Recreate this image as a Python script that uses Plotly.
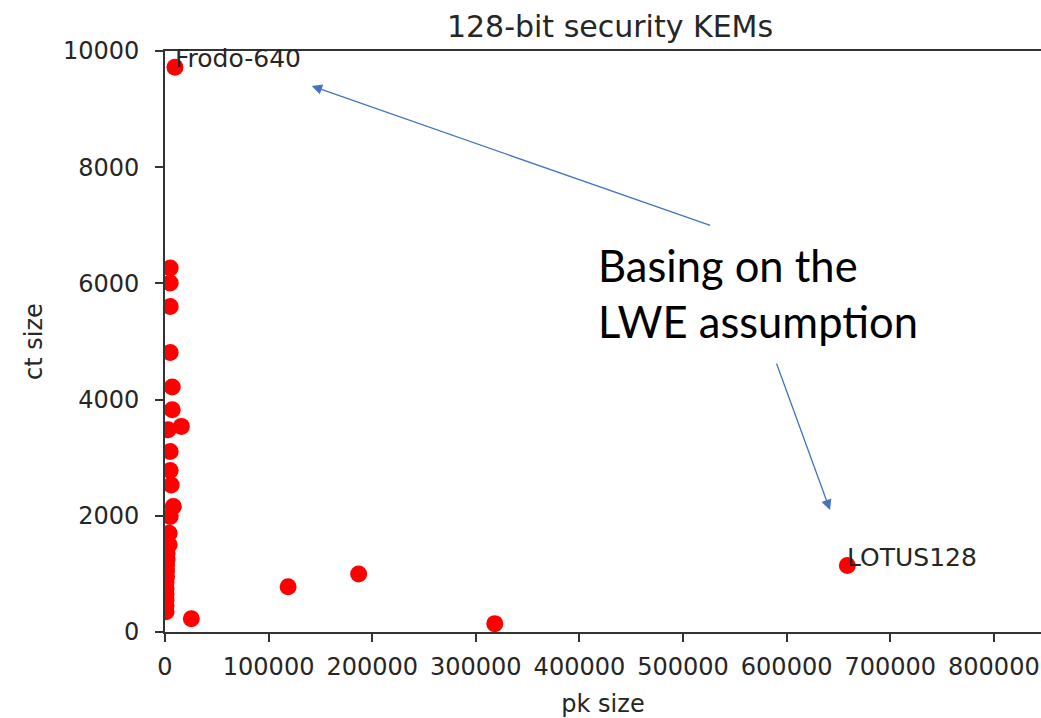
import plotly.graph_objects as go

# data (pk size, ct size)
pk_size = [9616, 5000, 5000, 5000, 5000, 7000, 7000, 15800, 3000, 5000, 5000, 6000, 8000,
           5000, 4000, 4000, 2000, 2000, 1500, 1500, 1500, 1000, 1000, 1000, 1000, 1000, 1000,
           25400, 118800, 186900, 318300, 658616]
ct_size = [9720, 6265, 6007, 5604, 4812, 4217, 3826, 3539, 3482, 3108, 2780, 2530, 2162,
           1990, 1700, 1500, 1350, 1250, 1150, 1050, 950, 850, 750, 650, 550, 450, 350,
           229, 780, 1000, 144, 1144]

label_names = ["Frodo-640", "LOTUS128"]
label_pk = [9616, 658616]
label_ct = [9720, 1144]

x_ticks = [0, 100000, 200000, 300000, 400000, 500000, 600000, 700000, 800000]
y_ticks = [0, 2000, 4000, 6000, 8000, 10000]

W, H = 1041, 718
L, R, T, B = 165, 0, 51, 86

def px(x):
    return (x - L) / (W - L - R)

def py(y):
    return (H - B - y) / (H - B - T)

FONT = "DejaVu Sans"
TXT = "#262626"

fig = go.Figure()
fig.add_trace(go.Scatter(
    x=pk_size, y=ct_size, mode="markers",
    marker=dict(color="#ff0000", size=17, line=dict(width=0)),
    cliponaxis=True, showlegend=False, hoverinfo="skip"))

annotations = []
for name, xv, yv in zip(label_names, label_pk, label_ct):
    annotations.append(dict(
        x=xv, y=yv, xref="x", yref="y", text=name, showarrow=False,
        xanchor="left", yanchor="bottom", yshift=-8, xshift=-2,
        font=dict(family=FONT, size=25, color=TXT)))

# overlay arrows (PowerPoint style)
BLUE = "#4472C4"
annotations.append(dict(
    x=px(311.7), y=py(86), xref="paper", yref="paper", text="",
    showarrow=True, arrowhead=2, arrowsize=1.6, arrowwidth=1.3, arrowcolor=BLUE,
    ax=400, ay=140, standoff=0))
annotations.append(dict(
    x=px(830), y=py(510), xref="paper", yref="paper", text="",
    showarrow=True, arrowhead=2, arrowsize=1.6, arrowwidth=1.3, arrowcolor=BLUE,
    ax=-54, ay=-148, standoff=0))

for line, base in [("Basing on the", 281.7), ("LWE assumption", 338)]:
    annotations.append(dict(
        x=px(596), y=py(base), xref="paper", yref="paper", text=line,
        showarrow=False, xanchor="left", yanchor="bottom", yshift=-11,
        font=dict(family="Lato", size=43.5, color="#000000")))

fig.update_layout(
    width=W, height=H,
    margin=dict(l=L, r=R, t=T, b=B, pad=0),
    paper_bgcolor="white", plot_bgcolor="white",
    font=dict(family=FONT, size=24, color=TXT),
    title=dict(text="128-bit security KEMs", x=px(610), xref="paper", xanchor="center",
               y=1 - 37 / H, yanchor="bottom", yref="container",
               font=dict(family=FONT, size=30, color=TXT)),
    annotations=annotations,
    xaxis=dict(range=[0, 845500], tickvals=x_ticks, tickformat="d",
               showgrid=False, zeroline=False, showline=True, linecolor="#333333",
               linewidth=1.6, mirror=True, ticks="outside", ticklen=8, tickwidth=1.6,
               tickcolor="#333333", ticklabelstandoff=4,
               tickfont=dict(family=FONT, size=24, color=TXT),
               title=dict(text="pk size", standoff=18,
                          font=dict(family=FONT, size=24, color=TXT))),
    yaxis=dict(range=[0, 10000], tickvals=y_ticks, tickformat="d",
               showgrid=False, zeroline=False, showline=True, linecolor="#333333",
               linewidth=1.6, mirror=False, ticks="outside", ticklen=8, tickwidth=1.6,
               tickcolor="#333333", ticklabelstandoff=11,
               tickfont=dict(family=FONT, size=24, color=TXT),
               title=dict(text="ct size", standoff=14,
                          font=dict(family=FONT, size=24, color=TXT))),
)

fig.write_html("out.html")
